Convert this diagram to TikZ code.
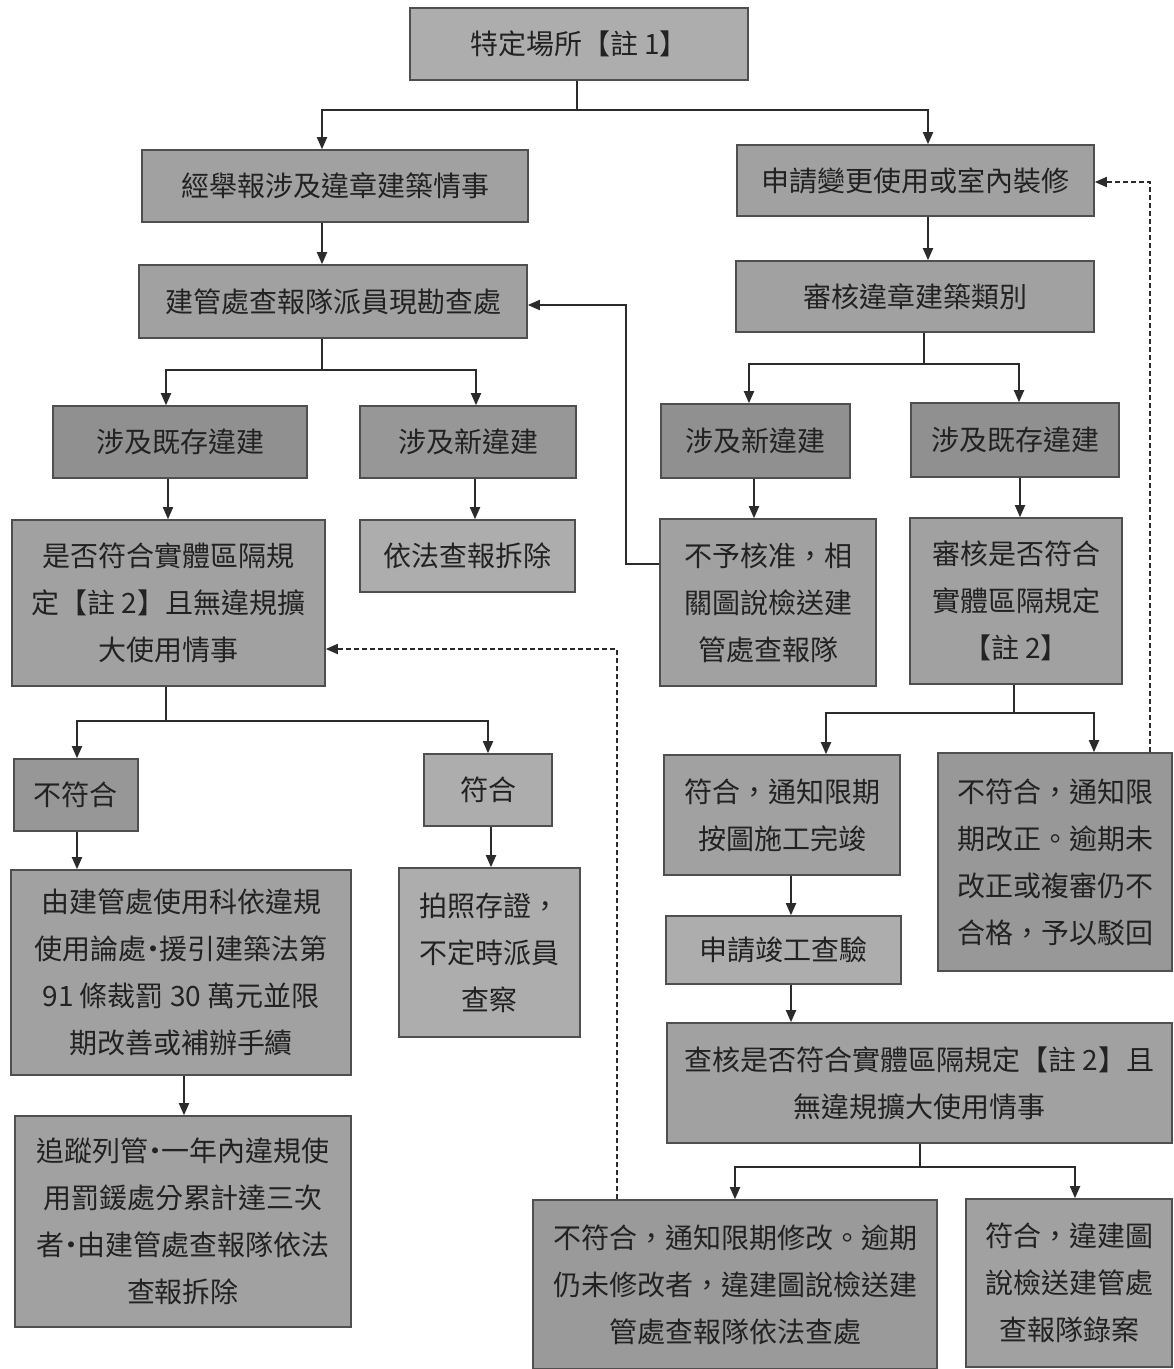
\documentclass[tikz,border=0pt]{standalone}
\usepackage{fontspec}
\setmainfont{Noto Sans CJK TC}
\usetikzlibrary{arrows.meta}
\definecolor{boxline}{HTML}{4F4F4F}
\definecolor{fillA}{HTML}{ADADAD}
\definecolor{fillB}{HTML}{A1A1A1}
\definecolor{fillC}{HTML}{909090}
\definecolor{txt}{HTML}{222222}
\definecolor{conn}{HTML}{2B2B2B}
\tikzset{
  box/.style={draw=boxline, line width=1.6pt, fill=fillB, inner sep=0pt, align=center,
    text=txt, font=\fontsize{28}{47}\selectfont},
  ln/.style={draw=conn, line width=1.8pt},
  arr/.style={ln, -{Triangle[length=12pt,width=10pt]}},
  darr/.style={arr, dash pattern=on 5pt off 3pt},
}
\newcommand\nd{\makebox[13pt]{·}}
\newcommand\mkbox[6][]{\node[box,#1,minimum width={(#4)-(#2)},minimum height={(#5)-(#3)}] (#6) at ({((#2)+(#4))/2},{((#3)+(#5))/2})}
\begin{document}
\begin{tikzpicture}[x=1pt,y=-1pt]
\useasboundingbox (0,0) rectangle (1174,1369);
\fill[white] (0,0) rectangle (1174,1369);

% ---- boxes ----
\mkbox[fill=fillA]{410}{8}{748}{80}{top}{特定場所【註 1】};
\mkbox{142}{150}{528}{222}{e1}{經舉報涉及違章建築情事};
\mkbox{139}{265}{527}{338}{e2}{建管處查報隊派員現勘查處};
\mkbox{737}{145}{1094}{216}{r1}{申請變更使用或室內裝修};
\mkbox{736}{261}{1094}{332}{r2}{審核違章建築類別};
\mkbox[fill=fillC]{53}{406}{307}{478}{la}{涉及既存違建};
\mkbox[fill=fillC!60!fillB]{360}{406}{576}{478}{lb}{涉及新違建};
\mkbox{12}{520}{325}{686}{lc}{是否符合實體區隔規\\定【註 2】且無違規擴\\大使用情事};
\mkbox[fill=fillA]{360}{520}{575}{592}{ld}{依法查報拆除};
\mkbox[fill=fillC]{661}{404}{850}{478}{ra}{涉及新違建};
\mkbox[fill=fillC]{911}{403}{1119}{477}{rb}{涉及既存違建};
\mkbox{660}{519}{876}{686}{rc}{不予核准，相\\關圖說檢送建\\管處查報隊};
\mkbox{910}{518}{1122}{684}{rd}{審核是否符合\\實體區隔規定\\【註 2】};
\mkbox[fill=fillC!60!fillB]{14}{759}{138}{831}{le}{不符合};
\mkbox[fill=fillA]{424}{754}{552}{826}{lf}{符合};
\mkbox{11}{870}{351}{1075}{lg}{由建管處使用科依違規\\使用論處\nd 援引建築法第\\91 條裁罰 30 萬元並限\\期改善或補辦手續};
\mkbox[fill=fillA]{399}{868}{580}{1037}{lh}{拍照存證，\\不定時派員\\查察};
\mkbox{15}{1116}{351}{1327}{li}{追蹤列管\nd 一年內違規使\\用罰鍰處分累計達三次\\者\nd 由建管處查報隊依法\\查報拆除};
\mkbox{664}{755}{900}{875}{re}{符合，通知限期\\按圖施工完竣};
\mkbox[fill=fillC!50!fillB]{938}{753}{1172}{971}{rf}{不符合，通知限\\期改正。逾期未\\改正或複審仍不\\合格，予以駁回};
\mkbox[fill=fillA]{666}{916}{901}{984}{rg}{申請竣工查驗};
\mkbox{667}{1023}{1172}{1143}{rh}{查核是否符合實體區隔規定【註 2】且\\無違規擴大使用情事};
\mkbox[fill=fillC!40!fillB]{533}{1200}{937}{1369}{ri}{不符合，通知限期修改。逾期\\仍未修改者，違建圖說檢送建\\管處查報隊依法查處};
\mkbox{966}{1199}{1172}{1367}{rj}{符合，違建圖\\說檢送建管處\\查報隊錄案};

% ---- guide coordinates ----
\coordinate (t1) at (577,110); \coordinate (t1l) at (322,110); \coordinate (t1r) at (928,110);
\coordinate (t2) at (322,370); \coordinate (t2l) at (166,370); \coordinate (t2r) at (476,370);
\coordinate (t3) at (924,364); \coordinate (t3l) at (749,364); \coordinate (t3r) at (1019,364);
\coordinate (t4) at (166,721); \coordinate (t4l) at (77,721); \coordinate (t4r) at (488,721);
\coordinate (t5) at (1014,713); \coordinate (t5l) at (826,713); \coordinate (t5r) at (1094,713);
\coordinate (t6) at (920,1167); \coordinate (t6l) at (735,1167); \coordinate (t6r) at (1075,1167);
\coordinate (v1) at (168,0); \coordinate (v2) at (475,0); \coordinate (v3) at (754,0);
\coordinate (v4) at (1020,0); \coordinate (v5) at (491,0); \coordinate (v6) at (184,0);
\coordinate (v7) at (791,0);
\coordinate (f1) at (626,564); \coordinate (f2) at (626,305);
\coordinate (d1) at (1150,182); \coordinate (d2) at (617,649);

% ---- connectors ----
\draw[ln] (top.south -| t1) -- (t1);
\draw[arr] (t1) -- (t1l) -- (e1.north -| t1l);
\draw[arr] (t1) -- (t1r) -- (r1.north -| t1r);
\draw[arr] (e1.south -| t1l) -- (e2.north -| t1l);
\draw[arr] (r1.south -| t1r) -- (r2.north -| t1r);

\draw[ln] (e2.south -| t2) -- (t2);
\draw[arr] (t2) -- (t2l) -- (la.north -| t2l);
\draw[arr] (t2) -- (t2r) -- (lb.north -| t2r);

\draw[ln] (r2.south -| t3) -- (t3);
\draw[arr] (t3) -- (t3l) -- (ra.north -| t3l);
\draw[arr] (t3) -- (t3r) -- (rb.north -| t3r);

\draw[arr] (la.south -| v1) -- (lc.north -| v1);
\draw[arr] (lb.south -| v2) -- (ld.north -| v2);
\draw[arr] (ra.south -| v3) -- (rc.north -| v3);
\draw[arr] (rb.south -| v4) -- (rd.north -| v4);

\draw[arr] (rc.west |- f1) -- (f1) -- (f2) -- (e2.east |- f2);

\draw[ln] (lc.south -| t4) -- (t4);
\draw[arr] (t4) -- (t4l) -- (le.north -| t4l);
\draw[arr] (t4) -- (t4r) -- (lf.north -| t4r);
\draw[arr] (le.south -| t4l) -- (lg.north -| t4l);
\draw[arr] (lf.south -| v5) -- (lh.north -| v5);
\draw[arr] (lg.south -| v6) -- (li.north -| v6);

\draw[ln] (rd.south -| t5) -- (t5);
\draw[arr] (t5) -- (t5l) -- (re.north -| t5l);
\draw[arr] (t5) -- (t5r) -- (rf.north -| t5r);
\draw[arr] (re.south -| v7) -- (rg.north -| v7);
\draw[arr] (rg.south -| v7) -- (rh.north -| v7);

\draw[ln] (rh.south -| t6) -- (t6);
\draw[arr] (t6) -- (t6l) -- (ri.north -| t6l);
\draw[arr] (t6) -- (t6r) -- (rj.north -| t6r);

\draw[darr] (rf.north -| d1) -- (d1) -- (r1.east |- d1);
\draw[darr] (ri.north -| d2) -- (d2) -- (lc.east |- d2);
\end{tikzpicture}
\end{document}
